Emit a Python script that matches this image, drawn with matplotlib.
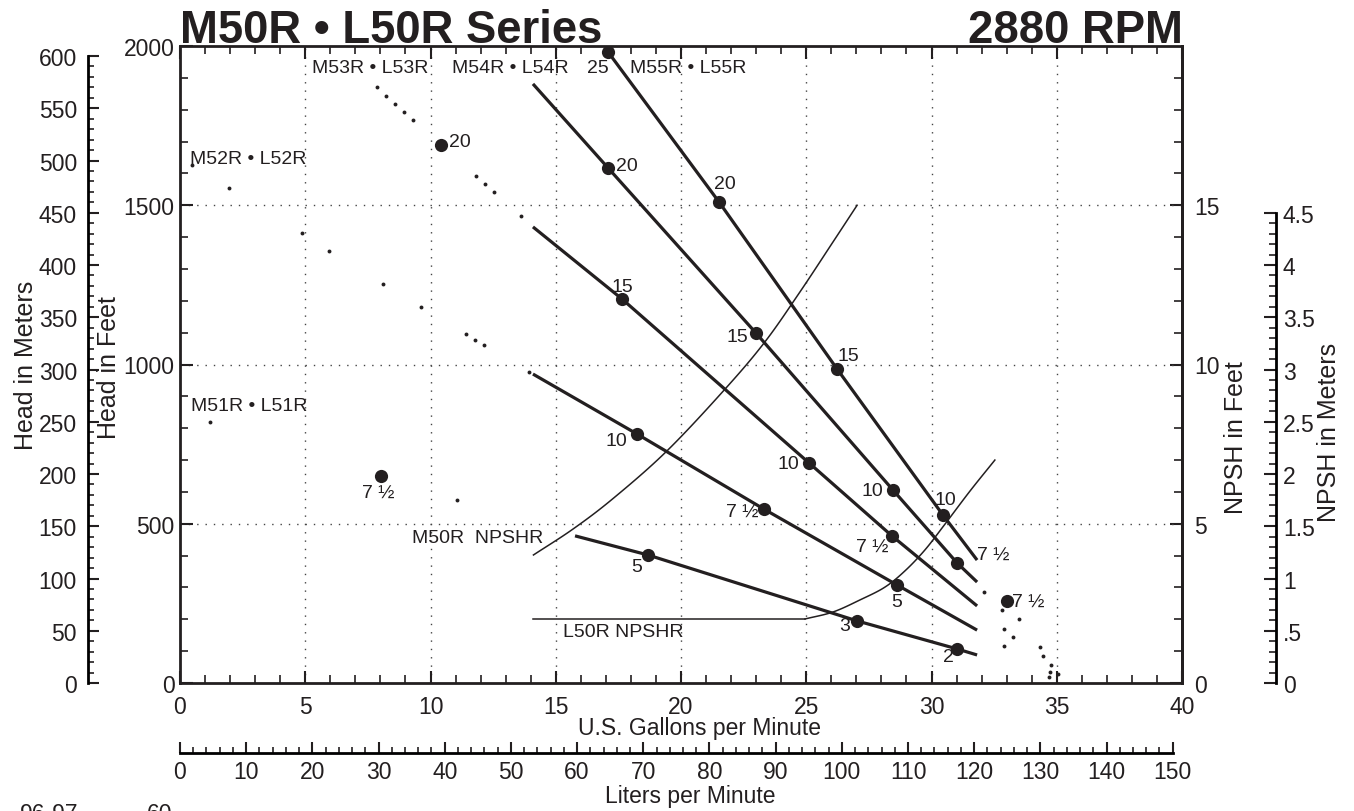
import matplotlib
matplotlib.use("Agg")
import numpy as np
import matplotlib.pyplot as plt
from matplotlib.ticker import MultipleLocator, FixedLocator, FuncFormatter

plt.rcParams['font.family'] = ['Liberation Sans', 'DejaVu Sans']
INK = '#231f20'

# ---- pump curves (US gpm vs head in feet) ----
m55_gpm = [17.09, 21.52, 26.23, 30.46, 31.82]
m55_head = [1981, 1510, 986, 527, 386]

m54_gpm = [14.09, 17.09, 22.99, 28.46, 31.02, 31.82]
m54_head = [1881, 1617, 1099, 606, 377, 317]

m53_gpm = [14.09, 17.64, 25.11, 28.42, 31.82]
m53_head = [1432, 1206, 691, 462, 242]
m53_dot_gpm = [7.86, 8.22, 8.58, 8.94, 9.30, 11.82, 12.18, 12.53, 13.61]
m53_dot_head = [1871, 1843, 1818, 1793, 1768, 1592, 1567, 1542, 1466]

m52_gpm = [14.09, 18.24, 23.31, 28.62, 31.82]
m52_head = [970, 782, 546, 308, 166]
m52_dot_gpm = [0.48, 1.96, 4.87, 5.95, 8.10, 9.62, 11.42, 11.78, 12.14, 13.93]
m52_dot_head = [1626, 1554, 1413, 1356, 1253, 1181, 1096, 1077, 1061, 976]

m51_gpm = [15.77, 18.68, 27.03, 31.02, 31.82]
m51_head = [462, 402, 195, 107, 88]
m51_dot_gpm = [1.20, 11.06]
m51_dot_head = [819, 575]

# runout dots beyond the solid curves
run_gpm = [32.10, 32.81, 33.49, 32.89, 33.25, 32.89, 34.33, 34.45, 34.77, 34.73, 34.69, 35.05]
run_head = [286, 229, 201, 170, 144, 116, 113, 85, 57, 35, 19, 28]

# motor hp points and their labels
hp_gpm = [17.09, 21.52, 26.23, 30.46, 17.09, 22.99, 28.46, 31.02, 10.42, 17.64,
          25.11, 28.42, 18.24, 23.31, 28.62, 8.02, 18.68, 27.03, 31.02, 33.01]
hp_head = [1981, 1510, 986, 527, 1617, 1099, 606, 377, 1689, 1206,
           691, 462, 782, 546, 308, 650, 402, 195, 107, 257]
hp_text = ['25', '20', '15', '10', '7 ½', '20', '15', '10', '20', '15',
           '10', '7 ½', '10', '7 ½', '5', '7 ½', '5', '3', '2', '7 ½']
hp_text_gpm = [16.67, 21.76, 26.67, 30.54, 32.46, 17.84, 22.24, 27.62, 11.18, 17.64,
               24.27, 27.62, 17.44, 22.44, 28.62, 7.90, 18.24, 26.55, 30.66, 33.85]
hp_text_head = [1934, 1567, 1027, 575, 405, 1626, 1089, 603, 1699, 1246,
                688, 430, 760, 540, 257, 600, 367, 179, 82, 257]

# NPSH required (feet)
m50_npsh_gpm = [14.11, 15.70, 17.30, 19.43, 21.76, 23.35, 24.75, 26.07, 27.03]
m50_npsh = [4.02, 4.84, 5.80, 7.28, 9.23, 10.71, 12.28, 13.85, 15.00]
l50_npsh_gpm = [14.09, 24.95, 26.07, 27.15, 28.14, 28.94, 29.74, 30.54, 31.54, 32.53]
l50_npsh = [2.01, 2.01, 2.23, 2.61, 3.01, 3.52, 4.18, 4.99, 6.03, 7.00]

series_names = ['M51R • L51R', 'M52R • L52R', 'M53R • L53R', 'M54R • L54R', 'M55R • L55R']
series_gpm = [2.75, 2.71, 7.58, 13.17, 20.28]
series_head = [870, 1648, 1934, 1934, 1934]

W, H = 1354, 812
fig = plt.figure(figsize=(W / 100, H / 100), dpi=100)


def fx(x):
    return x / W


def fy(y):
    return 1 - y / H


def smooth(xs, ys, n=12):
    # catmull-rom pass through the read points, only to round the corners
    xs, ys = np.asarray(xs, float), np.asarray(ys, float)
    px = np.concatenate([[2 * xs[0] - xs[1]], xs, [2 * xs[-1] - xs[-2]]])
    py = np.concatenate([[2 * ys[0] - ys[1]], ys, [2 * ys[-1] - ys[-2]]])
    ox, oy = [], []
    t = np.linspace(0, 1, n, endpoint=False)
    for i in range(1, len(px) - 2):
        for arr, out in ((px, ox), (py, oy)):
            p0, p1, p2, p3 = arr[i - 1:i + 3]
            out.extend(0.5 * (2 * p1 + (-p0 + p2) * t + (2 * p0 - 5 * p1 + 4 * p2 - p3) * t ** 2
                              + (-p0 + 3 * p1 - 3 * p2 + p3) * t ** 3))
    ox.append(xs[-1])
    oy.append(ys[-1])
    return ox, oy


ax = fig.add_axes([fx(180), fy(684), fx(1182 - 180), (684 - 47) / H])
ax.set_xlim(0, 40)
ax.set_ylim(0, 2000)

# grid
for g in range(5, 40, 5):
    ax.axvline(g, color='#444444', lw=1.0, ls=(0, (1, 5)), zorder=0.5)
for h in (500, 1000, 1500):
    ax.axhline(h, color='#444444', lw=1.0, ls=(0, (1, 5)), zorder=0.5)

# curves
for gx, hy in [(m55_gpm, m55_head), (m54_gpm, m54_head), (m53_gpm, m53_head),
               (m52_gpm, m52_head), (m51_gpm, m51_head)]:
    ax.plot(gx, hy, color=INK, lw=2.3, solid_capstyle='butt')
for gx, hy in [(m53_dot_gpm, m53_dot_head), (m52_dot_gpm, m52_dot_head),
               (m51_dot_gpm, m51_dot_head), (run_gpm, run_head)]:
    ax.plot(gx, hy, 'o', color=INK, ms=2.8, mew=0)
ax.plot(hp_gpm, hp_head, 'o', color=INK, ms=9.5, mew=0)
for t, gx, hy in zip(hp_text, hp_text_gpm, hp_text_head):
    ax.text(gx, hy, t, fontsize=14, color=INK, ha='center', va='center')

# npshr curves drawn on the head scale (1 ft npsh = 100 ft head)
sx, sy = smooth(m50_npsh_gpm, [v * 100 for v in m50_npsh])
ax.plot(sx, sy, color=INK, lw=1.1)
ax.plot(l50_npsh_gpm[:2], [v * 100 for v in l50_npsh[:2]], color=INK, lw=1.1)
sx, sy = smooth(l50_npsh_gpm[1:], [v * 100 for v in l50_npsh[1:]])
ax.plot(sx, sy, color=INK, lw=1.1)
ax.text(11.89, 458, 'M50R  NPSHR', fontsize=14, color=INK, ha='center', va='center')
ax.text(17.68, 163, 'L50R NPSHR', fontsize=14, color=INK, ha='center', va='center')
for t, gx, hy in zip(series_names, series_gpm, series_head):
    ax.text(gx, hy, t, fontsize=14, color=INK, ha='center', va='center')

# main axis styling
for s in ax.spines.values():
    s.set_linewidth(2.0)
    s.set_color(INK)
ax.xaxis.set_major_locator(MultipleLocator(5))
ax.xaxis.set_minor_locator(MultipleLocator(1))
ax.yaxis.set_major_locator(MultipleLocator(500))
ax.yaxis.set_minor_locator(MultipleLocator(100))
ax.tick_params(which='both', direction='in', top=True, right=False, colors=INK,
               labelsize=16.5)
ax.tick_params(which='major', length=9, width=1.5)
ax.tick_params(which='minor', length=5.5, width=1.2)
ax.tick_params(axis='x', pad=9)
ax.tick_params(axis='y', pad=4)

# NPSH in feet (right spine)
axn = ax.secondary_yaxis('right', functions=(lambda h: h / 100, lambda n: n * 100))
axn.yaxis.set_major_locator(FixedLocator([0, 5, 10, 15]))
axn.yaxis.set_minor_locator(FixedLocator([v for v in range(1, 20) if v % 5]))
axn.spines['right'].set_linewidth(2.0)
axn.tick_params(which='both', direction='in', colors=INK, labelsize=16.5, pad=9)
axn.tick_params(which='major', length=9, width=1.5)
axn.tick_params(which='minor', length=5.5, width=1.2)

# head in meters (left ruler)
axm = ax.secondary_yaxis(-92 / 1002, functions=(lambda h: h * 0.3048, lambda m: m / 0.3048))
axm.spines['left'].set_bounds(0, 600)
axm.spines['left'].set_linewidth(2.0)
axm.yaxis.set_major_locator(FixedLocator(list(range(0, 601, 50))))
axm.yaxis.set_minor_locator(FixedLocator([v for v in range(0, 601, 10) if v % 50]))
axm.tick_params(which='both', direction='in', colors=INK, labelsize=16.5, pad=8)
axm.tick_params(which='major', length=8, width=1.5)
axm.tick_params(which='minor', length=4.5, width=1.2)

# NPSH in meters (right ruler)
axnm = ax.secondary_yaxis(1096 / 1002, functions=(lambda h: h / 100 * 0.3048,
                                                   lambda m: m / 0.3048 * 100))
axnm.spines['right'].set_bounds(0, 4.5)
axnm.spines['right'].set_linewidth(2.0)
axnm.yaxis.set_major_locator(FixedLocator([i * 0.5 for i in range(10)]))
axnm.yaxis.set_minor_locator(FixedLocator([i / 10 for i in range(46) if i % 5]))
axnm.yaxis.set_major_formatter(FuncFormatter(
    lambda v, p: '.5' if abs(v - 0.5) < 1e-6 else f'{v:g}'))
axnm.tick_params(which='both', direction='in', colors=INK, labelsize=16.5, pad=5)
axnm.tick_params(which='major', length=9, width=1.5)
axnm.tick_params(which='minor', length=5, width=1.2)

# liters per minute ruler
axl = ax.secondary_xaxis(-70 / 637, functions=(lambda g: g * 3.785, lambda l: l / 3.785))
axl.spines['bottom'].set_bounds(0, 150)
axl.spines['bottom'].set_linewidth(2.0)
axl.xaxis.set_major_locator(FixedLocator(list(range(0, 151, 10))))
axl.xaxis.set_minor_locator(FixedLocator([v for v in range(0, 151, 2) if v % 10]))
axl.tick_params(which='both', direction='in', colors=INK, labelsize=16.5, pad=5)
axl.tick_params(which='major', length=8, width=1.5)
axl.tick_params(which='minor', length=4.5, width=1.2)

# titles and axis labels
fig.text(fx(180), fy(43), 'M50R • L50R Series', fontsize=32.8, fontweight='bold',
         color=INK, ha='left', va='baseline')
fig.text(fx(1183), fy(43), '2880 RPM', fontsize=32.8, fontweight='bold',
         color=INK, ha='right', va='baseline')
fig.text(fx(26), fy(365), 'Head in Meters', fontsize=18, color=INK, rotation=90,
         ha='center', va='center')
fig.text(fx(109), fy(368), 'Head in Feet', fontsize=18, color=INK, rotation=90,
         ha='center', va='center')
fig.text(fx(1236), fy(438), 'NPSH in Feet', fontsize=18, color=INK, rotation=90,
         ha='center', va='center')
fig.text(fx(1329), fy(432), 'NPSH in Meters', fontsize=18, color=INK, rotation=90,
         ha='center', va='center')
fig.text(fx(700), fy(729), 'U.S. Gallons per Minute', fontsize=16.5, color=INK,
         ha='center', va='center')
fig.text(fx(690), fy(797), 'Liters per Minute', fontsize=16.5, color=INK,
         ha='center', va='center')
# partial footer line, cut by the bottom edge as in the source
fig.text(fx(20), fy(803), '96-97', fontsize=16.5, color=INK, ha='left', va='top')
fig.text(fx(147), fy(803), '60', fontsize=16.5, color=INK, ha='left', va='top')

fig.savefig('out.png', dpi=100)
